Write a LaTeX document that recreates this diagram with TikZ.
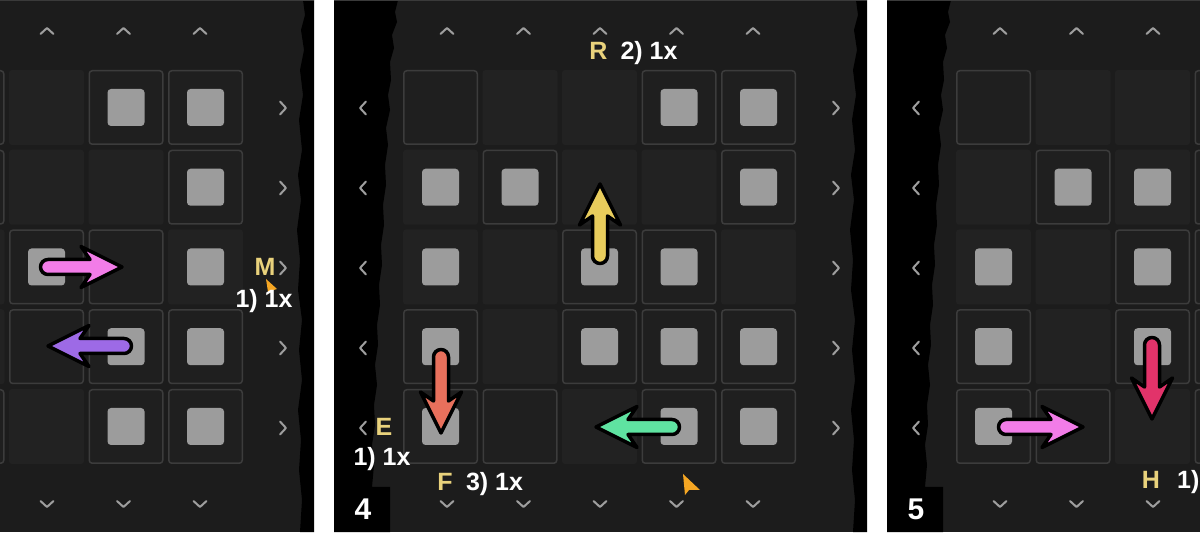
\documentclass[tikz,border=0pt]{standalone}
\usepackage{fontspec}
\setmainfont{Liberation Sans}
\usetikzlibrary{calc}

\definecolor{bgpanel}{HTML}{1C1C1C}
\definecolor{plainc}{HTML}{222222}
\definecolor{outlfill}{HTML}{1F1F1F}
\definecolor{outledge}{HTML}{3C3C3C}
\definecolor{sqgray}{HTML}{9C9C9C}
\definecolor{chevgray}{HTML}{9E9E9E}
\definecolor{lblyellow}{HTML}{E9D27C}
\definecolor{topgray}{HTML}{3A3A3A}
\definecolor{cursorc}{HTML}{F5A623}
\definecolor{arrpink}{HTML}{F27CE8}
\definecolor{arrpurple}{HTML}{9D6AE6}
\definecolor{arryellow}{HTML}{E8CC5C}
\definecolor{arrsalmon}{HTML}{E8705C}
\definecolor{arrgreen}{HTML}{5FE3A1}
\definecolor{arrcrimson}{HTML}{E2336A}

\tikzset{
  plaincell/.style={fill=plainc, minimum size=75, inner sep=0, rounded corners=3},
  outlcell/.style={fill=outlfill, draw=outledge, line width=1.5, minimum size=73.5, inner sep=0, rounded corners=3},
  sqr/.style={fill=sqgray, minimum size=37, inner sep=0, rounded corners=3.5},
  chevline/.style={draw=chevgray, line width=2, line cap=round, line join=round},
  chevup/.pic={\draw[chevline] (-6.5,3) -- (0,-3) -- (6.5,3);},
  chevdown/.pic={\draw[chevline] (-6.5,-3) -- (0,3) -- (6.5,-3);},
  chevleft/.pic={\draw[chevline] (3,-6.5) -- (-3,0) -- (3,6.5);},
  chevright/.pic={\draw[chevline] (-3,-6.5) -- (3,0) -- (-3,6.5);},
  topline/.style={draw=topgray, line width=1.5},
  arrowline/.style={draw=black, line width=3.5, line join=round},
  lbly/.style={text=lblyellow, font=\bfseries\fontsize{25}{25}\selectfont, inner sep=0},
  lblw/.style={text=white, font=\bfseries\fontsize{25}{25}\selectfont, inner sep=0},
  numlbl/.style={text=white, font=\bfseries\fontsize{30}{30}\selectfont, inner sep=0},
}

\newcommand\gridrow[3]{%
  \foreach \c/\t in {#3}{%
    \pgfmathsetmacro\cx{440.5+79.5*(\c-1)}%
    \pgfmathsetmacro\cy{107.5+79.75*(#2-1)}%
    \ifnum\t<2
      \node[plaincell] (#1-#2-\c) at (\cx,\cy) {};
    \else
      \node[outlcell] (#1-#2-\c) at (\cx,\cy) {};
    \fi
    \ifodd\t
      \node[sqr] (#1-#2-\c-s) at (\cx,\cy) {};
    \fi
  }}

\newcommand\panel[7]{%
  \begin{scope}[xshift=#2]
    \fill[bgpanel] (334,0) rectangle (867,532);
    \fill[black] (334,0) -- (398,0) -- (395,12) -- (397,22) -- (392,35) -- (394,48) -- (390,62) -- (391,80) -- (388,95) -- (390,110) -- (386,128) -- (388,145) -- (385,165) -- (386,185) -- (383,205) -- (384,225) -- (381,245) -- (382,265) -- (379,285) -- (380,305) -- (377,325) -- (378,345) -- (375,365) -- (377,385) -- (374,405) -- (375,425) -- (372,445) -- (374,465) -- (372,487) -- (390,487) -- (390,532) -- (334,532) -- cycle;
    \fill[black] (867,0) -- (856,0) -- (858,15) -- (854,30) -- (857,50) -- (853,70) -- (856,95) -- (852,120) -- (855,150) -- (851,175) -- (854,200) -- (850,230) -- (853,260) -- (851,290) -- (855,320) -- (852,350) -- (855,380) -- (851,410) -- (854,440) -- (852,470) -- (855,500) -- (853,532) -- (867,532) -- cycle;
    \draw[topline] (334,0.75) -- (867,0.75);
    \gridrow{#1}{1}{#3}
    \gridrow{#1}{2}{#4}
    \gridrow{#1}{3}{#5}
    \gridrow{#1}{4}{#6}
    \gridrow{#1}{5}{#7}
    \foreach \x in {447,523.5,600,676.5,753}{
      \pic at (\x,31) {chevup};
      \pic at (\x,504) {chevdown};
    }
    \foreach \y in {108,188,268,348,428}{
      \pic at (363,\y) {chevleft};
      \pic at (836,\y) {chevright};
    }
  \end{scope}}

% block arrow: #1 colour, #2 tail coordinate, #3 angle, #4 length
\newcommand\blockarrow[4]{%
  \draw[arrowline, fill=#1, shift={(#2)}, rotate=#3]
    (0,7.5) -- ({#4-32},7.5) -- ({#4-41},20.5) -- (#4,0) -- ({#4-41},-20.5)
    -- ({#4-32},-7.5) -- (0,-7.5) arc[start angle=-90, end angle=-270, radius=7.5] -- cycle;}

\begin{document}
\begin{tikzpicture}[x=1pt,y=-1pt]
\useasboundingbox (0,0) rectangle (1200,534);
\clip (0,0) rectangle (1200,534);
\fill[white] (0,0) rectangle (1200,534);

% left panel (cut)
\panel{L}{-553}
  {1/0,2/2,3/0,4/3,5/3}
  {1/0,2/2,3/0,4/0,5/3}
  {1/0,2/0,3/3,4/2,5/1}
  {1/0,2/0,3/2,4/3,5/3}
  {1/0,2/2,3/0,4/3,5/3}

% middle panel
\panel{M}{0}
  {1/2,2/0,3/0,4/3,5/3}
  {1/1,2/3,3/0,4/0,5/3}
  {1/1,2/0,3/3,4/3,5/0}
  {1/3,2/0,3/3,4/3,5/3}
  {1/3,2/2,3/0,4/3,5/3}

% right panel (cut)
\panel{R}{553}
  {1/2,2/0,3/0,4/2,5/0}
  {1/0,2/3,3/1,4/2,5/0}
  {1/1,2/0,3/3,4/2,5/0}
  {1/3,2/0,3/3,4/2,5/0}
  {1/3,2/2,3/0,4/2,5/0}

% arrow tails
\coordinate (aLpink) at (48,267);
\coordinate (aLpurple) at (124,346);
\coordinate (aMyellow) at (600,256);
\coordinate (aMsalmon) at (441,357);
\coordinate (aMgreen) at (672,427);
\coordinate (aRpink) at (1006,427);
\coordinate (aRcrimson) at (1152,345);

\blockarrow{arrpink}{aLpink}{0}{74}
\blockarrow{arrpurple}{aLpurple}{180}{76}
\blockarrow{arryellow}{aMyellow}{90}{72}
\blockarrow{arrsalmon}{aMsalmon}{-90}{76}
\blockarrow{arrgreen}{aMgreen}{180}{76}
\blockarrow{arrpink}{aRpink}{0}{77}
\blockarrow{arrcrimson}{aRcrimson}{-90}{74}

% cursors
\fill[cursorc] (266,279) -- (277,289) -- (268,292) -- cycle;
\fill[cursorc] (683,474) -- (700,490) -- (689,490) -- (685,495) -- cycle;

% labels
\node[lbly, anchor=base] (lblM) at (265,276) {M};
\node[lblw, anchor=base] (lblM1) at (264,308) {1) 1x};
\node[lbly, anchor=base] (lblR) at (598.5,60) {R};
\node[lblw, anchor=base] (lblR2) at (649,60) {2) 1x};
\node[lbly, anchor=base] (lblE) at (384,436) {E};
\node[lblw, anchor=base] (lblE1) at (382,466) {1) 1x};
\node[lbly, anchor=base] (lblF) at (445,490) {F};
\node[lblw, anchor=base] (lblF3) at (494.5,490) {3) 1x};
\node[lbly, anchor=base] (lblH) at (1151,489) {H};
\node[lblw, anchor=base west] (lblH1) at (1177,489) {1)};

% panel numbers
\node[numlbl, anchor=base] (num4) at (363,519) {4};
\node[numlbl, anchor=base] (num5) at (916,519) {5};
\end{tikzpicture}
\end{document}
